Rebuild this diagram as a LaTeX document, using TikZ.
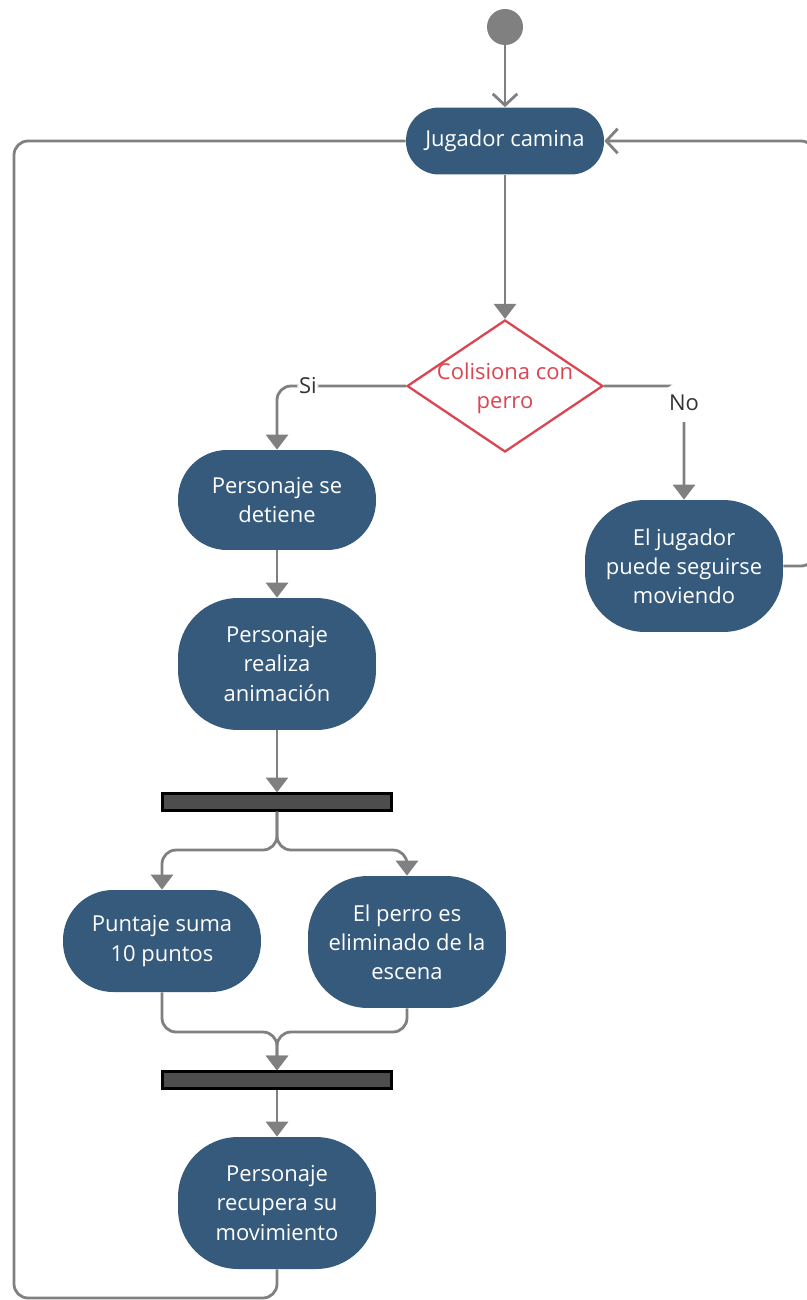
\documentclass[tikz,border=0pt]{standalone}
\usepackage{fontspec}
\setmainfont{Open Sans}
\usetikzlibrary{shapes.geometric,arrows.meta}

\definecolor{actblue}{HTML}{355A7C}
\definecolor{lnkgray}{HTML}{808080}
\definecolor{condred}{HTML}{DB4552}
\definecolor{barfill}{HTML}{4D4D4D}
\definecolor{lbltext}{HTML}{333333}

\tikzset{
	act/.style={fill=actblue, text=white, minimum width=3.96cm, align=center, inner sep=0pt, font=\fontsize{12.5}{16.6}\selectfont},
	cond/.style={diamond, draw=condred, line width=1.3pt, fill=white, minimum width=3.92cm, minimum height=2.64cm, inner sep=0pt},
	condtxt/.style={text=condred, align=center, inner sep=0pt, font=\fontsize{12.5}{16.6}\selectfont},
	bar/.style={draw=black, fill=barfill, line width=1.2pt, minimum width=4.58cm, minimum height=0.34cm, inner sep=0pt},
	startdot/.style={circle, fill=lnkgray, minimum size=0.72cm, inner sep=0pt},
	flow/.style={draw=lnkgray, line width=1.6pt, rounded corners=8pt, -{Triangle[length=8.5pt,width=12.5pt]}},
	ret/.style={draw=lnkgray, line width=1.6pt, rounded corners=8pt, -{Straight Barb[length=6.5pt,width=14pt]}},
	loopline/.style={draw=lnkgray, line width=1.6pt, rounded corners=8pt},
	lbl/.style={fill=white, text=lbltext, inner sep=1pt, font=\fontsize{12.5}{14}\selectfont}
}

\begin{document}
\begin{tikzpicture}[x=0.02cm, y=-0.02cm]
	\useasboundingbox (0,0) rectangle (807,1300);
	% activities
	\node[startdot] (ini) at (505,27) {};
	\node[act, minimum height=1.34cm, rounded corners=0.66cm] (walk) at (505,141) {Jugador camina};
	\node[cond] (hit) at (505,386) {};
	\node[condtxt] (hittxt) at (505,388) {Colisiona con\\perro};
	\node[act, minimum height=2cm, rounded corners=0.98cm] (stop) at (277,500) {Personaje se\\detiene};
	\node[act, minimum height=2.64cm, rounded corners=1.2cm] (move) at (684,566) {El jugador\\puede seguirse\\moviendo};
	\node[act, minimum height=2.64cm, rounded corners=1.2cm] (anim) at (277,664) {Personaje\\realiza\\animación};
	\node[bar] (fork1) at (277,802) {};
	\node[act, minimum height=2.04cm, rounded corners=1cm] (score) at (162,941) {Puntaje suma\\10 puntos};
	\node[act, minimum height=2.64cm, rounded corners=1.2cm] (remove) at (407,942) {El perro es\\eliminado de la\\escena};
	\node[bar] (join1) at (277,1080) {};
	\node[act, minimum height=2.64cm, rounded corners=1.2cm] (back) at (277,1203) {Personaje\\recupera su\\movimiento};

	% helper points
	\coordinate (split) at (277,850);
	\coordinate (merge) at (277,1032);
	\coordinate (lowleft) at (14,1298);
	\coordinate (upright) at (815,141);

	% connectors
	\draw[ret] (ini) -- (walk);
	\draw[flow] (walk) -- (hit.north);
	\draw[flow] (hit.west) -| node[lbl, pos=0.38] {Si} (stop.north);
	\draw[flow] (hit.east) -| node[lbl, pos=0.5, yshift=-0.34cm, minimum width=0.84cm, minimum height=0.76cm] {No} (move.north);
	\draw[ret] (move.east) -| (upright) -- (walk.east);
	\draw[flow] (stop) -- (anim);
	\draw[flow] (anim) -- (fork1);
	\draw[flow] (fork1) -- (split) -| (score.north);
	\draw[flow] (fork1) -- (split) -| (remove.north);
	\draw[flow] (score.south) |- (merge) -- (join1.north);
	\draw[flow] (remove.south) |- (merge) -- (join1.north);
	\draw[flow] (join1) -- (back);
	\draw[loopline] (back.south) |- (lowleft) |- (walk.west);
\end{tikzpicture}
\end{document}
